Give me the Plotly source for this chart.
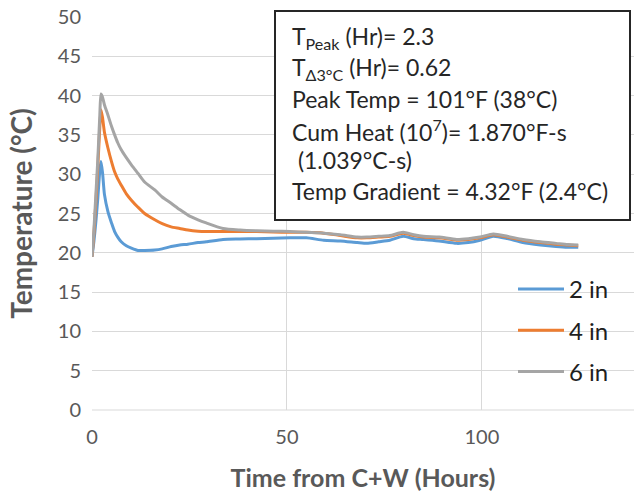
import plotly.graph_objects as go

# Elapsed time since casting + watering (hours)
hours = [0, 0.5, 1, 1.5, 2, 2.3, 2.7, 3.2, 4.1, 5, 5.8, 6.6, 7.5, 8.8, 10.1, 11.8,
         13.5, 16.1, 18, 20.3, 22.5, 24.6, 27.2, 29.3, 33.6, 38, 42.2, 46.5, 50.8,
         55, 59.4, 63.7, 68, 70.5, 73.5, 76.4, 79.8, 82.5, 85, 89, 93.5, 96.5, 99.5,
         102.9, 106.5, 110.5, 115, 119, 122, 124.7]

# Temperature (°C) recorded at each sensor depth
temp_2in = [19.5, 21.5, 24, 27, 30.5, 31.6, 30.2, 27.4, 25.2, 23.8, 22.7, 22.0, 21.4,
            20.9, 20.6, 20.3, 20.3, 20.35, 20.5, 20.8, 21.0, 21.1, 21.3, 21.4, 21.7,
            21.75, 21.8, 21.85, 21.9, 21.9, 21.6, 21.5, 21.3, 21.2, 21.4, 21.6, 22.1,
            21.8, 21.7, 21.5, 21.2, 21.3, 21.6, 22.1, 21.8, 21.3, 21.0, 20.8, 20.7, 20.7]
temp_4in = [19.5, 22.5, 26.5, 31, 36, 38.2, 37.2, 35.3, 33.3, 31.6, 30.3, 29.4, 28.6,
            27.5, 26.7, 25.8, 25.0, 24.2, 23.7, 23.3, 23.1, 22.9, 22.75, 22.7, 22.7,
            22.7, 22.7, 22.65, 22.6, 22.6, 22.5, 22.2, 21.9, 21.9, 22.0, 22.1, 22.5,
            22.2, 22.0, 21.9, 21.6, 21.7, 21.9, 22.3, 22.0, 21.6, 21.3, 21.1, 21.0, 20.9]
temp_6in = [19.5, 23, 27.5, 32, 37.5, 40.2, 39.8, 38.8, 37.5, 36.1, 35.0, 34.0, 33.1,
            32.1, 31.2, 30.1, 29.0, 28.0, 27.1, 26.3, 25.5, 24.8, 24.2, 23.8, 23.1,
            22.9, 22.8, 22.75, 22.7, 22.6, 22.5, 22.3, 22.0, 22.0, 22.1, 22.2, 22.6,
            22.3, 22.1, 22.0, 21.7, 21.8, 22.0, 22.4, 22.1, 21.7, 21.4, 21.2, 21.05, 21.0]

series_names = ["2 in", "4 in", "6 in"]
series_colors = ["#5b9bd5", "#ed7d31", "#a5a5a5"]

# Summary statistics shown in the boxed note
summary_lines = [
    "T<sub>Peak</sub> (Hr)= 2.3",
    "T<sub>Δ3°C</sub> (Hr)= 0.62",
    "Peak Temp = 101°F (38°C)",
    "Cum Heat (10<sup>7</sup>)= 1.870°F-s",
    "\u00a0(1.039°C-s)",
    "Temp Gradient = 4.32°F (2.4°C)",
]

FONT = "Lato, 'Open Sans', sans-serif"
W, H = 634, 498
ML, MR, MT, MB = 92, 0, 17, 88
PW, PH = W - ML - MR, H - MT - MB


def px_x(p):
    return (p - ML) / PW


def px_y(p):
    return (H - MB - p) / PH


fig = go.Figure()
for i, (name, vals) in enumerate(zip(series_names, [temp_2in, temp_4in, temp_6in])):
    fig.add_trace(go.Scatter(
        x=hours, y=vals, name=name, mode="lines",
        line=dict(color=series_colors[i], width=3, shape="spline", smoothing=0.6),
        legendgroup=name,
    ))

# Boxed note
fig.add_shape(type="rect", xref="paper", yref="paper",
              x0=px_x(275), x1=px_x(630), y0=px_y(220), y1=px_y(11),
              line=dict(color="#262626", width=2), fillcolor="white", layer="above")
line_centers = [38, 68, 99, 130, 160, 191]
for txt, yc in zip(summary_lines, line_centers):
    fig.add_annotation(text=txt, xref="paper", yref="paper",
                       x=px_x(290), y=px_y(yc), xanchor="left", yanchor="middle",
                       showarrow=False, font=dict(family=FONT, size=23, color="#262626"))

fig.update_layout(
    width=W, height=H,
    margin=dict(l=ML, r=MR, t=MT, b=MB, autoexpand=False),
    paper_bgcolor="white", plot_bgcolor="white",
    font=dict(family=FONT, color="#595959"),
    legend=dict(
        x=px_x(513), y=px_y(267), xanchor="left", yanchor="top",
        bgcolor="rgba(0,0,0,0)", font=dict(family=FONT, size=24, color="#1f1f1f"),
        tracegroupgap=7, itemwidth=46,
    ),
    xaxis=dict(
        range=[0, 139], tickvals=[0, 50, 100], ticktext=["0", "50", "100"],
        showgrid=True, gridcolor="#d9d9d9", gridwidth=1,
        zeroline=False, showline=False,
        tickfont=dict(family=FONT, size=20, color="#595959"),
        ticklabelstandoff=13,
        title=dict(text="<b>Time from C+W (Hours)</b>", standoff=22,
                   font=dict(family=FONT, size=25, color="#595959")),
        automargin=False,
    ),
    yaxis=dict(
        range=[0, 50], dtick=5,
        showgrid=True, gridcolor="#d9d9d9", gridwidth=1,
        zeroline=False, showline=False,
        tickfont=dict(family=FONT, size=20, color="#595959"),
        ticklabelstandoff=10,
        title=dict(text="<b>Temperature (°C)</b>", standoff=16,
                   font=dict(family=FONT, size=28, color="#595959")),
        automargin=False,
    ),
)
fig.add_shape(type="line", xref="paper", yref="paper", x0=0, x1=1, y0=0, y1=0,
              line=dict(color="#d9d9d9", width=1), layer="below")

fig.write_html("out.html")
